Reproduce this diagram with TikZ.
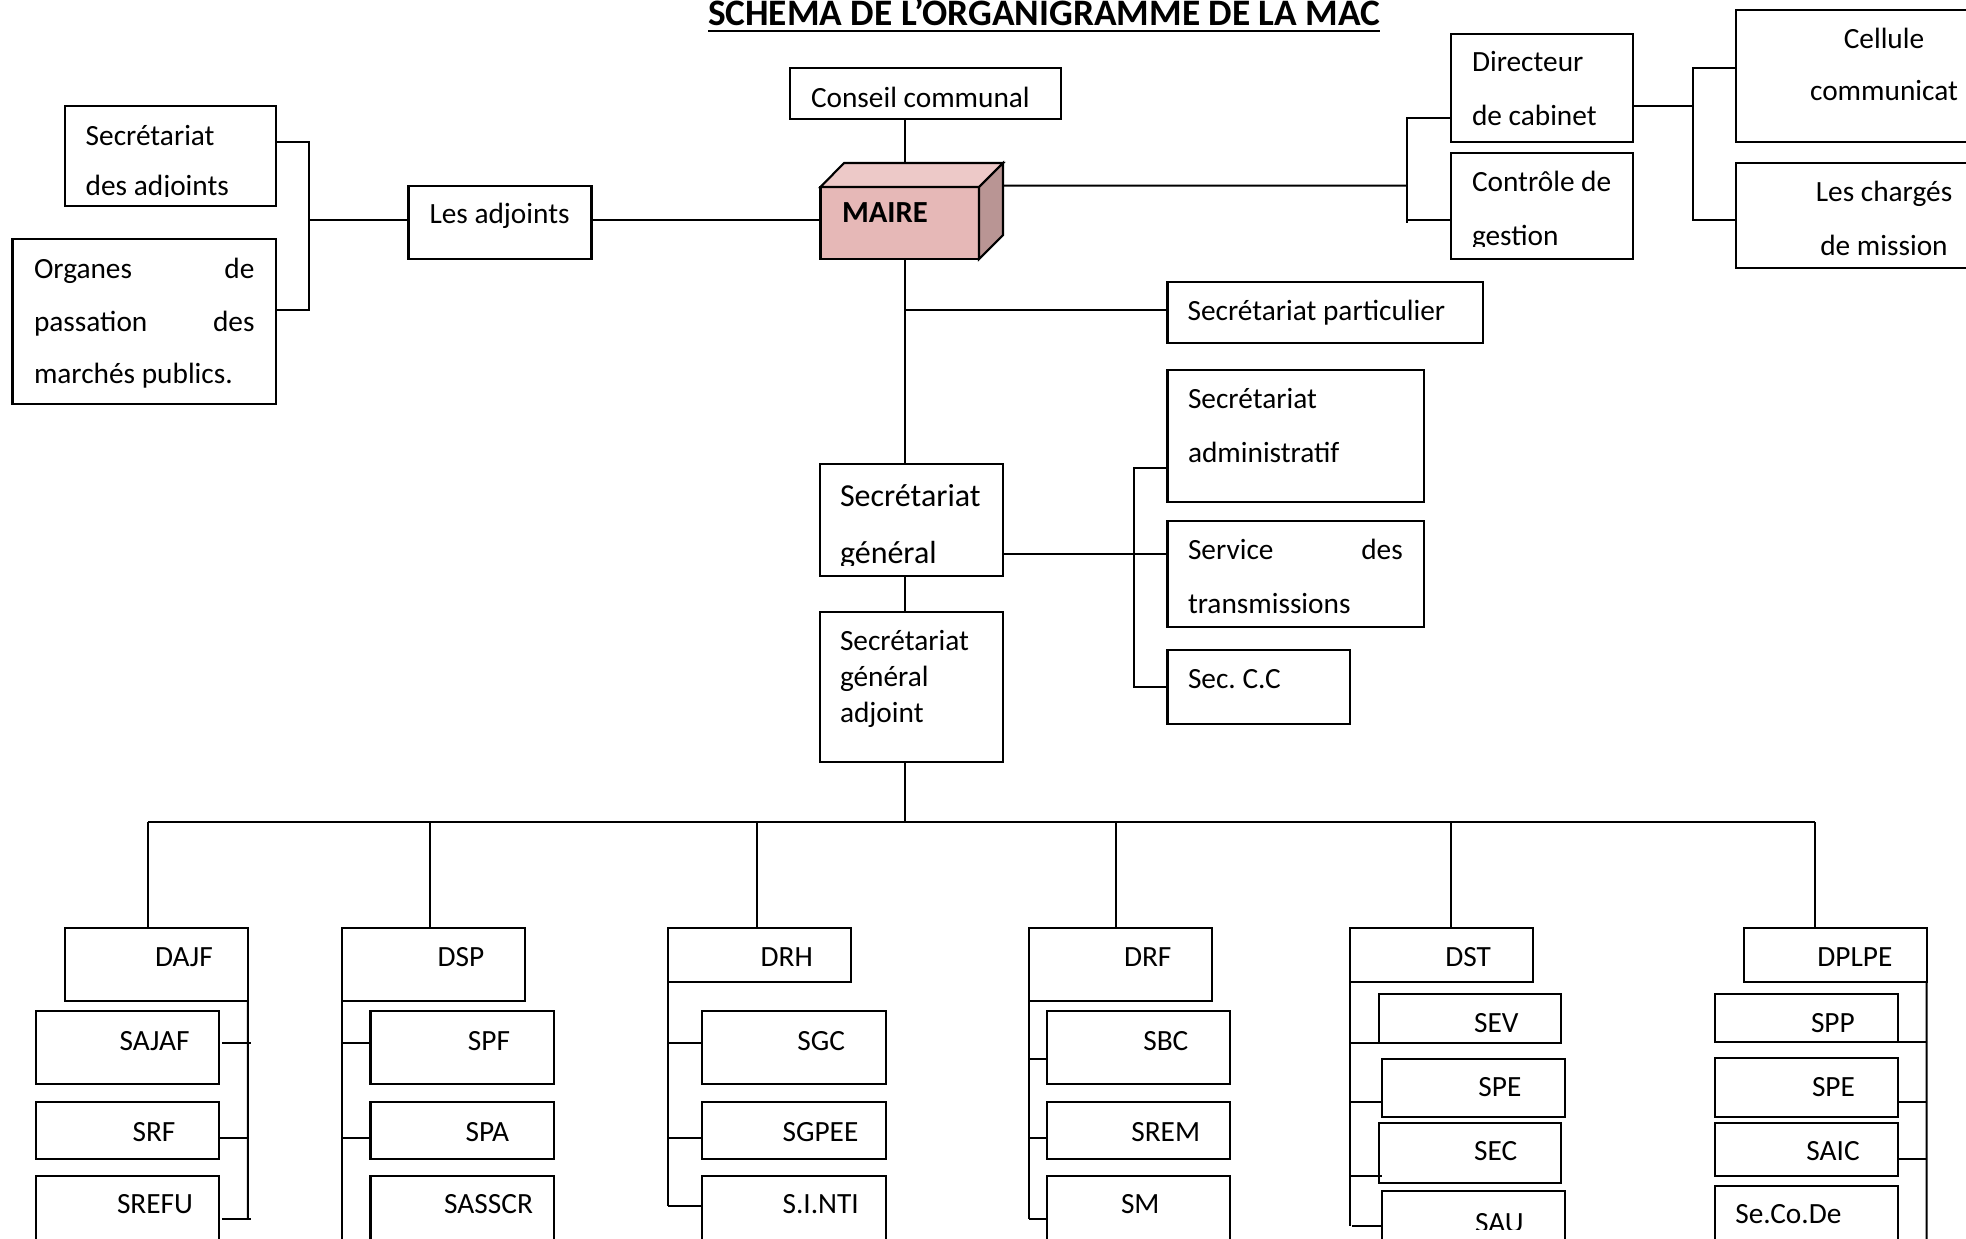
\documentclass[tikz,border=0pt]{standalone}
\usepackage{fontspec}
\setmainfont{Carlito}
\usetikzlibrary{calc}
\frenchspacing
\definecolor{mfront}{HTML}{E6B8B7}
\definecolor{mtop}{HTML}{EDC9C8}
\definecolor{mside}{HTML}{B99594}
% \bx[opts]{name}{x1}{y1}{x2}{y2}
\newcommand\bx[6][]{\node[box,#1,minimum width={(#5-#3)*0.375pt},minimum height={(#6-#4)*0.375pt},anchor=north west] (#2) at (#3,#4) {};}
% \tx[opts]{name}{x}{y}{text}
\newcommand\tx[5][]{\node[lbl,anchor=base west,#1] (#2) at (#3,#4) {#5};}
\tikzset{
  box/.style={draw=black,line width=0.8pt,inner sep=0pt,outer sep=0pt,fill=white},
  conn/.style={draw=black,line width=0.75pt},
  lbl/.style={inner sep=0pt,outer sep=0pt,font=\fontsize{11}{13}\selectfont},
  big/.style={font=\fontsize{12}{14}\selectfont},
}
\begin{document}
\begin{tikzpicture}[x=0.375pt,y=-0.375pt,line join=miter]
\useasboundingbox (0,0) rectangle (1966,1238);
\fill[white] (0,0) rectangle (1966,1238);
\clip (0,0) rectangle (1966,1238);

% ---------- title
\node[lbl,font=\fontsize{14}{17}\selectfont\bfseries,anchor=base west] (title) at (708,25) {SCHEMA DE L’ORGANIGRAMME DE LA MAC};
\draw[line width=0.95pt] ([yshift=-2.3pt]title.base west) -- ([yshift=-2.3pt]title.base east);

% ---------- coordinates for connectors
\coordinate (la1) at (308.5,141.7);
\coordinate (la2) at (308.5,310);
\coordinate (la0) at (308.5,220);
\coordinate (T0) at (904.5,310);
\coordinate (rb0) at (1407,185.7);
\coordinate (rb1) at (1407,118);
\coordinate (rb2) at (1407,220);
\coordinate (rb3) at (1407,223);
\coordinate (cb0) at (1692.6,106);
\coordinate (cb1) at (1692.6,67.7);
\coordinate (cb2) at (1692.6,220);
\coordinate (sb0) at (1134,554.3);
\coordinate (sb1) at (1134,467.7);
\coordinate (sb2) at (1134,687.3);
\coordinate (bus) at (904.5,822.3);
\coordinate (bL) at (147.8,822.3);
\coordinate (bR) at (1815.3,822.3);
\coordinate (d1) at (147.8,822.3);
\coordinate (d2) at (430,822.3);
\coordinate (d3) at (757,822.3);
\coordinate (d4) at (1115.6,822.3);
\coordinate (d5) at (1450.8,822.3);
\coordinate (d6) at (1815.3,822.3);

% ---------- upper boxes
\bx{sadj}{64.7}{106}{275.9}{206}
\bx{org}{12.5}{239}{275.9}{404}
\bx{adj}{408.5}{185.7}{591.5}{259}
\bx{cc}{790}{68}{1061}{119}
\bx[fill=mfront]{maire}{820.5}{187}{979}{259}
\filldraw[box,fill=mtop] (maire.north west) -- ($(maire.north west)+(23.5,-24)$) -- ($(maire.north east)+(24,-24)$) -- (maire.north east) -- cycle;
\filldraw[box,fill=mside] (maire.north east) -- ($(maire.north east)+(24,-24)$) -- ($(maire.south east)+(24,-24)$) -- (maire.south east) -- cycle;
\bx{dc}{1451}{33.7}{1633}{141.7}
\bx{cg}{1451}{153}{1633}{259}
\bx{cell}{1736}{10}{2040}{141.7}
\bx{chm}{1736}{162.7}{2040}{268}
\bx{sp}{1167.5}{281.7}{1483}{342.7}
\bx{sa}{1167.5}{370}{1424}{501.7}
\bx{sv}{1167.5}{521}{1424}{626.7}
\bx{scc}{1167.5}{650}{1350}{724}
\bx{sg}{820}{464}{1003}{575.7}
\bx{sga}{820}{612.3}{1003}{761.7}

% ---------- upper connectors
\draw[conn] (sadj.east |- la1) -- (la1) -- (la2) -- (org.east |- la2);
\draw[conn] (la0) -- (adj.west |- la0);
\draw[conn] (adj.east |- la0) -- (maire.west |- la0);
\draw[conn] (cc.south -| T0) -- ($(maire.north -| T0)+(0,-24)$);
\draw[conn] (maire.south -| T0) -- (sg.north -| T0);
\draw[conn] (T0) -- (sp.west |- T0);
\draw[conn] ($(maire.north east)+(24,-1.3)$) -- (rb0);
\draw[conn] (dc.west |- rb1) -- (rb1) -- (rb3);
\draw[conn] (rb2) -- (cg.west |- rb2);
\draw[conn] (dc.east |- cb0) -- (cb0);
\draw[conn] (cell.west |- cb1) -- (cb1) -- (cb2) -- (chm.west |- cb2);
\draw[conn] (sg.east |- sb0) -- (sv.west |- sb0);
\draw[conn] (sa.west |- sb1) -- (sb1) -- (sb2) -- (scc.west |- sb2);
\draw[conn] (sg.south -| T0) -- (sga.north -| T0);
\draw[conn] (sga.south -| T0) -- (bus);
\draw[conn] (bL) -- (bR);

% ---------- upper texts
\tx{t1}{85.7}{145}{Secrétariat}
\begin{scope}\clip (60,150) rectangle (280,196.5);
\tx{t2}{85.7}{195}{des adjoints}
\end{scope}
\tx{t3}{34}{278.3}{Organes}
\tx[anchor=base east]{t4}{254.5}{278.3}{de}
\tx{t5}{34}{331.7}{passation}
\tx[anchor=base east]{t6}{254.5}{331.7}{des}
\tx{t7}{34}{383.3}{marchés publics.}
\tx{t8}{429.5}{223.3}{Les adjoints}
\tx{t9}{811}{107}{Conseil communal}
\tx[font=\fontsize{11.5}{14}\selectfont\bfseries]{t10}{842}{222.7}{MAIRE}
\tx{t11}{1472}{71.7}{Directeur}
\tx{t12}{1472}{125}{de cabinet}
\tx{t13}{1472}{191.7}{Contrôle de}
\begin{scope}\clip (1450,200) rectangle (1640,246.7);
\tx{t14}{1472}{245}{gestion}
\end{scope}
\tx[anchor=base]{t15}{1884}{48.3}{Cellule}
\tx[anchor=base]{t16}{1884}{100}{communicat}
\tx[anchor=base]{t17}{1884}{201.7}{Les chargés}
\tx[anchor=base]{t18}{1884}{255}{de mission}
\tx{t19}{1187.6}{320}{Secrétariat particulier}
\tx{t20}{1188}{408.3}{Secrétariat}
\tx{t21}{1188}{462.7}{administratif}
\tx{t22}{1188}{559.3}{Service}
\tx[anchor=base east]{t23}{1402.8}{559.3}{des}
\tx{t24}{1188}{613.3}{transmissions}
\tx{t25}{1188}{688.3}{Sec. C.C}
\tx[big]{t26}{840}{506.7}{Secrétariat}
\begin{scope}\clip (820,515) rectangle (1003,565);
\tx[big]{t27}{840}{563}{général}
\end{scope}
\tx{t28}{840}{650.7}{Secrétariat}
\tx{t29}{840}{686.7}{général}
\tx{t30}{840}{722.7}{adjoint}

% ---------- directorates
\bx{dajf}{64.7}{927.7}{247.8}{1001.3}
\bx{sajaf}{36}{1010.7}{219}{1084.3}
\bx{srf}{36}{1102}{219}{1159.3}
\bx{srefu}{36}{1175.7}{219}{1270}

\bx{dsp}{342.4}{927.7}{525}{1001.3}
\bx{spf}{370.5}{1010.7}{553.6}{1084.3}
\bx{spa}{370.5}{1102}{553.6}{1159.3}
\bx{sasscr}{370.5}{1175.7}{553.6}{1270}

\bx{drh}{667.9}{927.7}{850.9}{982}
\bx{sgc}{702.2}{1010.7}{885.7}{1084.3}
\bx{sgpee}{702.2}{1102}{885.7}{1159.3}
\bx{sinti}{702.2}{1175.7}{885.7}{1270}

\bx{drf}{1028.6}{927.7}{1211.6}{1001.3}
\bx{sbc}{1047.3}{1010.7}{1230.4}{1084.3}
\bx{srem}{1047.3}{1102}{1230.4}{1159.3}
\bx{sm}{1047.3}{1175.7}{1230.4}{1270}

\bx{dst}{1349.7}{927.7}{1532.8}{982}
\bx{sev}{1378.6}{994.3}{1561.3}{1043.3}
\bx{spe1}{1381.6}{1059.3}{1564.7}{1116.7}
\bx{sec}{1378.6}{1122.7}{1561.3}{1182.7}
\bx{sau}{1381.6}{1191}{1564.7}{1270}

\bx{dplpe}{1744}{927.7}{1926.6}{982}
\bx{spp}{1715}{994.3}{1898}{1042.3}
\bx{spe2}{1715}{1057.7}{1898}{1116.7}
\bx{saic}{1715}{1122.7}{1898}{1175.7}
\bx{secode}{1715}{1185.7}{1898}{1270}

% drops from bus
\draw[conn] (d1) -- (dajf.north -| d1);
\draw[conn] (d2) -- (dsp.north -| d2);
\draw[conn] (d3) -- (drh.north -| d3);
\draw[conn] (d4) -- (drf.north -| d4);
\draw[conn] (d5) -- (dst.north -| d5);
\draw[conn] (d6) -- (dplpe.north -| d6);

% DAJF bracket
\coordinate (a1) at (247.8,1043);
\coordinate (a2) at (247.8,1137.7);
\coordinate (a3) at (247.8,1219.3);
\draw[conn] (dajf.south east) -- (a3);
\draw[conn] ([xshift=1.1pt]sajaf.east |- a1) -- ([xshift=1.3pt]a1);
\draw[conn] (srf.east |- a2) -- (a2);
\draw[conn] ([xshift=1.1pt]srefu.east |- a3) -- ([xshift=1.3pt]a3);

% DSP bracket
\coordinate (b1) at (342.4,1043);
\coordinate (b2) at (342.4,1137.7);
\coordinate (b3) at (342.4,1260);
\draw[conn] (dsp.south west) -- (b3);
\draw[conn] (b1) -- (spf.west |- b1);
\draw[conn] (b2) -- (spa.west |- b2);

% DRH bracket
\coordinate (c1) at (667.9,1043.3);
\coordinate (c2) at (667.9,1137.7);
\coordinate (c3) at (667.9,1205.7);
\draw[conn] (drh.south west) -- (c3);
\draw[conn] (c1) -- (sgc.west |- c1);
\draw[conn] (c2) -- (sgpee.west |- c2);
\draw[conn] (c3) -- (sinti.west |- c3);

% DRF bracket
\coordinate (e1) at (1028.6,1059.3);
\coordinate (e2) at (1028.6,1137.7);
\coordinate (e3) at (1028.6,1219.3);
\draw[conn] (drf.south west) -- (e3);
\draw[conn] (e1) -- (sbc.west |- e1);
\draw[conn] (e2) -- (srem.west |- e2);
\draw[conn] (e3) -- (sm.west |- e3);

% DST bracket
\coordinate (f1) at (1349.7,1043.3);
\coordinate (f2) at (1349.7,1102.3);
\coordinate (f3) at (1349.7,1175.7);
\coordinate (f4) at (1349.7,1226);
\draw[conn] (dst.south west) -- (f4);
\draw[conn] (f1) -- (sev.west |- f1);
\draw[conn] (f2) -- (spe1.west |- f2);
\draw[conn] (f3) -- (sau.west |- f3);
\draw[conn] ([xshift=0.8pt]f4) -- (sau.west |- f4);

% DPLPE bracket
\coordinate (g1) at (1926.6,1042.3);
\coordinate (g2) at (1926.6,1102.3);
\coordinate (g3) at (1926.6,1159);
\coordinate (g4) at (1926.6,1260);
\draw[conn] (dplpe.south east) -- (g4);
\draw[conn] (spp.east |- g1) -- (g1);
\draw[conn] (spe2.east |- g2) -- (g2);
\draw[conn] (saic.east |- g3) -- (g3);

% bottom texts
\tx{u1}{155}{966.7}{DAJF}
\tx{u2}{119.6}{1050}{SAJAF}
\tx{u3}{132.6}{1141.7}{SRF}
\tx{u4}{117}{1213.3}{SREFU}
\tx{u5}{437.5}{966.7}{DSP}
\tx{u6}{467.9}{1050}{SPF}
\tx{u7}{465.6}{1141.7}{SPA}
\tx{u8}{444.2}{1213.3}{SASSCR}
\tx{u9}{760.7}{966.7}{DRH}
\tx{u10}{797.3}{1050}{SGC}
\tx{u11}{782.6}{1141.7}{SGPEE}
\tx{u12}{782.6}{1213.3}{S.I.NTI}
\tx{u13}{1124}{966.7}{DRF}
\tx{u14}{1143.3}{1050}{SBC}
\tx{u15}{1131.3}{1141.7}{SREM}
\tx{u16}{1121}{1213.3}{SM}
\tx{u17}{1445.3}{966.7}{DST}
\tx{u18}{1474.2}{1032.3}{SEV}
\tx{u19}{1478.4}{1096.7}{SPE}
\tx{u20}{1474.2}{1160.7}{SEC}
\begin{scope}\clip (1380,1195) rectangle (1565,1229);
\tx{u21}{1475}{1232}{SAU}
\end{scope}
\tx{u22}{1817.4}{966.7}{DPLPE}
\tx{u23}{1811}{1032.3}{SPP}
\tx{u24}{1812}{1096}{SPE}
\tx{u25}{1806.4}{1160.7}{SAIC}
\tx{u26}{1735.4}{1223.3}{Se.Co.De}
\end{tikzpicture}
\end{document}
